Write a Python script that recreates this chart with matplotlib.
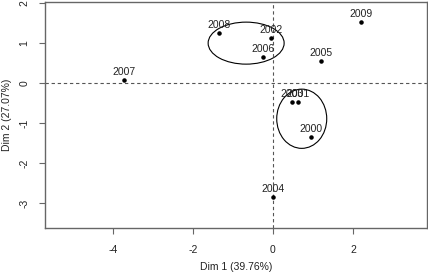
import matplotlib
matplotlib.use("Agg")
from matplotlib import pyplot as plt
from matplotlib.patches import Ellipse

plt.rcParams['font.family'] = ['Liberation Sans', 'DejaVu Sans']
plt.rcParams['axes.unicode_minus'] = False

years = ["2007", "2008", "2002", "2006", "2009", "2005", "2003", "2001", "2000", "2004"]
dim1 = [-3.72, -1.35, -0.05, -0.25, 2.2, 1.2, 0.47, 0.62, 0.95, 0.0]
dim2 = [0.07, 1.25, 1.12, 0.65, 1.52, 0.55, -0.48, -0.48, -1.35, -2.85]

# ellipses: (center x, center y, width, height)
ellipses = [(-0.67, 1.0, 1.9, 1.05), (0.72, -0.89, 1.25, 1.48)]

fig = plt.figure(figsize=(4.28, 2.75), dpi=100)
ax = fig.add_axes([0.105, 0.171, 0.8925, 0.822])
ax.set_xlim(-5.7, 3.85)
ax.set_ylim(-3.62, 2.03)

ax.axhline(0, color='#555555', lw=0.8, ls=(0, (3, 2.5)))
ax.axvline(0, color='#555555', lw=0.8, ls=(0, (3, 2.5)))

ax.scatter(dim1, dim2, s=5, color='black', zorder=3)
for x, y, lab in zip(dim1, dim2, years):
    ax.annotate(lab, (x, y), xytext=(0, 2.5), textcoords='offset points',
                ha='center', va='bottom', fontsize=7.5, color='#222222')

for cx, cy, w, h in ellipses:
    ax.add_patch(Ellipse((cx, cy), w, h, fill=False, color='black', lw=0.8))

ax.set_xticks([-4, -2, 0, 2])
ax.set_yticks([-3, -2, -1, 0, 1, 2])
ax.tick_params(colors='#666666', labelcolor='#222222', labelsize=7.5, length=4, width=0.8)
ax.tick_params(axis='x', pad=8)
ax.tick_params(axis='y', pad=7)
for lbl in ax.get_yticklabels():
    lbl.set_rotation(90)
    lbl.set_va('center')
for sp in ax.spines.values():
    sp.set_color('#666666')
    sp.set_linewidth(1.0)

ax.set_xlabel('Dim 1 (39.76%)', fontsize=7.5, color='#222222', labelpad=5)
ax.yaxis.set_label_coords(-0.085, 0.5)
ax.set_ylabel('Dim 2 (27.07%)', fontsize=7.5, color='#222222')

plt.savefig("out.png", dpi=100)
